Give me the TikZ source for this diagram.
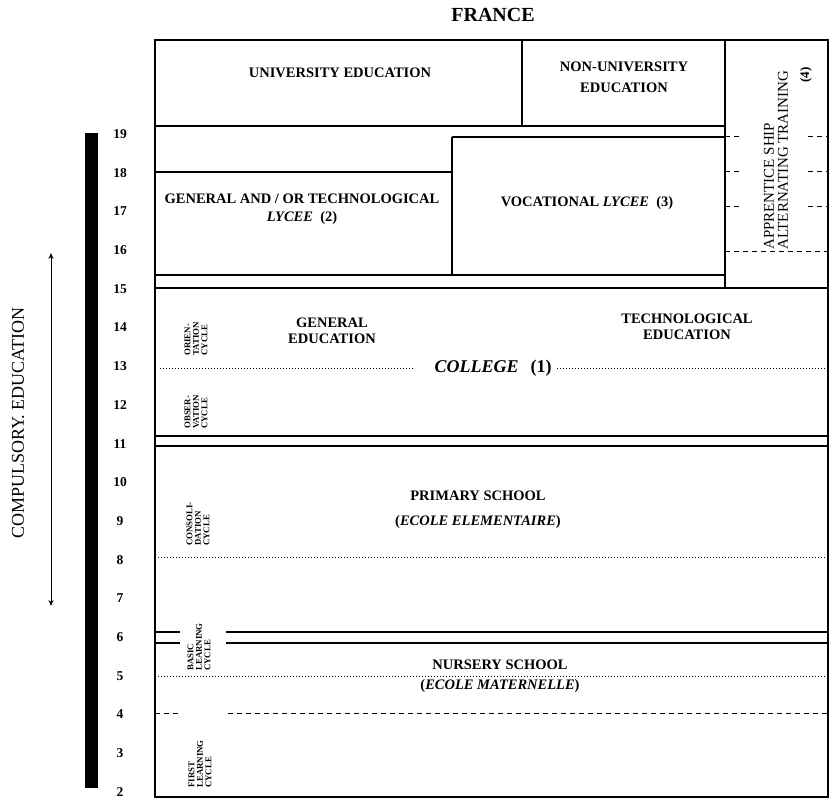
\documentclass[tikz,border=0pt]{standalone}
\usepackage{fontspec}
\setmainfont{Liberation Serif}
\usetikzlibrary{arrows.meta}
\begin{document}
\begin{tikzpicture}[x=1pt,y=-1pt,
  frame/.style={line width=1.8pt},
  rule/.style={line width=1.4pt},
  dotrule/.style={line width=0.9pt, dash pattern=on 0.9pt off 2.1pt},
  dashrule/.style={line width=1pt, dash pattern=on 5pt off 4pt},
  lbl/.style={font=\fontsize{14.5}{18}\selectfont\bfseries, align=center, inner sep=0pt},
  cyc/.style={font=\fontsize{8.8}{8.6}\selectfont\bfseries, rotate=90, align=left, inner sep=0pt},
  agelbl/.style={font=\fontsize{13.5}{15}\selectfont\bfseries, inner sep=0pt}]
\useasboundingbox (0,0) rectangle (830,799);

% title
\node[font=\fontsize{20}{22}\selectfont\bfseries, inner sep=0pt] (title) at (493,15) {FRANCE};

% age scale
\fill (85,133) rectangle (98,788);
\foreach \a in {2,...,19} \node[agelbl] (age\a) at (120,{134+(19-\a)*38.7}) {\a};

% compulsory education
\coordinate (ctop) at (51,253);
\coordinate (cbot) at (51,606);
\draw[{Stealth[length=6pt,width=5pt]}-{Stealth[length=6pt,width=5pt]}, line width=1pt] (ctop) -- (cbot);
\node[rotate=90, font=\fontsize{18}{20}\selectfont, inner sep=0pt] (comp) at (18,423) {COMPULSORY. EDUCATION};

% outer frame
\draw[frame] (155,40) rectangle (828,797);

% higher education
\draw[rule] (522,40) -- (522,126);
\draw[rule] (155,126) -- (725,126);
\draw[rule] (725,40) -- (725,288);
% lycees
\draw[rule] (452,137) -- (725,137);
\draw[rule] (452,137) -- (452,275);
\draw[rule] (155,172) -- (452,172);
\draw[rule] (155,275) -- (725,275);
% college
\draw[rule] (155,288) -- (828,288);
\coordinate (dl1) at (160,368); \coordinate (dl2) at (413,368);
\coordinate (dr1) at (557,368); \coordinate (dr2) at (828,368);
\draw[dotrule] (dl1) -- (dl2);
\draw[dotrule] (dr1) -- (dr2);
\draw[rule] (155,436) -- (828,436);
\draw[rule] (155,446) -- (828,446);
% primary
\draw[dotrule] (158,557) -- (828,557);
\draw[rule] (155,632) -- (180,632);
\draw[rule] (226,632) -- (828,632);
\draw[rule] (155,643) -- (180,643);
\draw[rule] (226,643) -- (828,643);
% nursery
\draw[dotrule] (158,676) -- (828,676);
\draw[dashrule] (155,713) -- (182,713);
\draw[dashrule] (228,713) -- (828,713);

% apprenticeship dashes
\foreach \yy in {137,172,207} {
  \draw[dashrule] (725,\yy) -- (742,\yy);
  \draw[dashrule] (808,\yy) -- (828,\yy);
}
\draw[dashrule] (725,252) -- (828,252);

% labels
\node[lbl] (univ) at (340,73) {UNIVERSITY EDUCATION};
\node[lbl, font=\fontsize{14.5}{21}\selectfont\bfseries] (nonuniv) at (624,77) {NON-UNIVERSITY\\EDUCATION};
\node[lbl] (genlyc) at (302,209) {GENERAL AND / OR TECHNOLOGICAL\\\textit{LYCEE}\enspace(2)};
\node[lbl] (voclyc) at (587,203) {VOCATIONAL \textit{LYCEE}\enspace(3)};
\node[rotate=90, anchor=west, align=left, font=\fontsize{15}{14}\selectfont, inner sep=0pt] (appr) at (776,250) {APPRENTICE SHIP\\ALTERNATING TRAINING};
\node[rotate=90, font=\fontsize{13}{15}\selectfont\bfseries, inner sep=0pt] (four) at (806,75) {(4)};

\node[lbl, font=\fontsize{14.5}{16}\selectfont\bfseries] (gened) at (332,331) {GENERAL\\EDUCATION};
\node[lbl, font=\fontsize{14.5}{16}\selectfont\bfseries] (teched) at (687,327) {TECHNOLOGICAL\\EDUCATION};
\node[font=\fontsize{18}{20}\selectfont\bfseries, inner sep=0pt] (college) at (493,368) {\textit{COLLEGE}\hspace{12pt}(1)};

\node[lbl, font=\fontsize{14.5}{25}\selectfont\bfseries] (primary) at (478,510) {PRIMARY SCHOOL\\(\textit{ECOLE ELEMENTAIRE})};
\node[lbl, font=\fontsize{14.5}{20}\selectfont\bfseries] (nursery) at (500,676) {NURSERY SCHOOL\\(\textit{ECOLE MATERNELLE})};

% cycles
\node[cyc] (orient) at (196,339) {ORIEN-\\TATION\\CYCLE};
\node[cyc] (observ) at (196,412) {OBSER-\\VATION\\CYCLE};
\node[cyc] (consol) at (198,524) {CONSOLI-\\DATION\\CYCLE};
\node[cyc] (basic) at (199,647) {BASIC\\LEARNING\\CYCLE};
\node[cyc] (first) at (200,764) {FIRST\\LEARNING\\CYCLE};
\end{tikzpicture}
\end{document}
